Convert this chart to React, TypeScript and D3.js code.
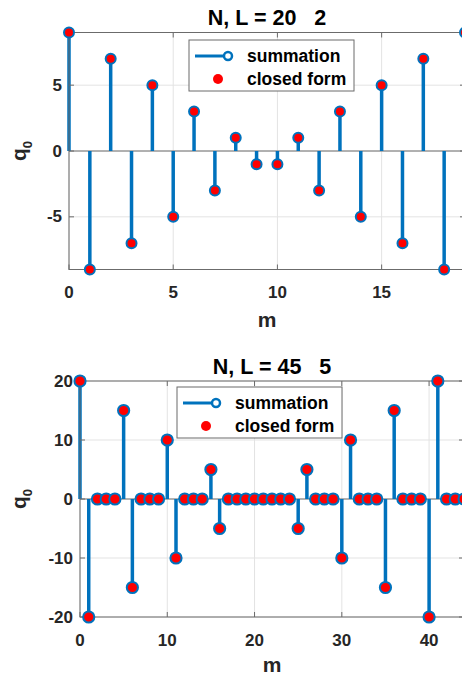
import React from "react";
import * as d3 from "d3";

const topM = d3.range(0, 20);
const topQ = [9, -9, 7, -7, 5, -5, 3, -3, 1, -1, -1, 1, -3, 3, -5, 5, -7, 7, -9, 9];
const topXTicks = [0, 5, 10, 15];
const topYTicks = [-5, 0, 5];

const botM = d3.range(0, 45);
const botQ = [
  20, -20, 0, 0, 0, 15, -15, 0, 0, 0, 10, -10, 0, 0, 0, 5, -5, 0, 0, 0, 0, 0, 0, 0, 0,
  -5, 5, 0, 0, 0, -10, 10, 0, 0, 0, -15, 15, 0, 0, 0, -20, 20, 0, 0, 0,
];
const botXTicks = [0, 10, 20, 30, 40];
const botYTicks = [-20, -10, 0, 10, 20];

const BLUE = "#0072BD";
const RED = "#FF0000";
const AX = "#6b6b6b";
const TXT = "#262626";
const FONT = "'Liberation Sans', Arial, sans-serif";

type PanelProps = {
  title: string;
  m: number[];
  q: number[];
  xDomain: [number, number];
  yDomain: [number, number];
  xRange: [number, number];
  yRange: [number, number];
  xTicks: number[];
  yTicks: number[];
  r: number;
  legend: { x: number; y: number; w: number; h: number };
  ylabX: number;
  xlabY: number;
  xtickY: number;
  titleY: number;
};

function Panel(p: PanelProps) {
  const x = d3.scaleLinear().domain(p.xDomain).range(p.xRange);
  const y = d3.scaleLinear().domain(p.yDomain).range(p.yRange);
  const [x0, x1] = p.xRange;
  const [yb, yt] = p.yRange;
  const cx = (x0 + x1) / 2;
  const cy = (yb + yt) / 2;
  const tl = 5;
  const lg = p.legend;
  return (
    <g>
      {p.xTicks.map((t) => (
        <line key={"gx" + t} x1={x(t)} x2={x(t)} y1={yt} y2={yb} stroke="#e3e3e3" strokeWidth={1} />
      ))}
      {p.yTicks.map((t) => (
        <line key={"gy" + t} x1={x0} x2={x1} y1={y(t)} y2={y(t)} stroke="#e3e3e3" strokeWidth={1} />
      ))}
      <line x1={x0} x2={x1} y1={y(0)} y2={y(0)} stroke="#707070" strokeWidth={1} />
      {p.m.map((mm, i) => (
        <line key={"s" + mm} x1={x(mm)} x2={x(mm)} y1={y(0)} y2={y(p.q[i])} stroke={BLUE} strokeWidth={3.5} />
      ))}
      <rect x={x0} y={yt} width={x1 - x0} height={yb - yt} fill="none" stroke={AX} strokeWidth={1} />
      {p.xTicks.map((t) => (
        <g key={"tx" + t}>
          <line x1={x(t)} x2={x(t)} y1={yb} y2={yb - tl} stroke={AX} />
          <line x1={x(t)} x2={x(t)} y1={yt} y2={yt + tl} stroke={AX} />
          <text x={x(t)} y={p.xtickY} textAnchor="middle" dominantBaseline="central" fontSize={17} fontWeight="bold" fill={TXT}>
            {t}
          </text>
        </g>
      ))}
      {p.yTicks.map((t) => (
        <g key={"ty" + t}>
          <line x1={x0} x2={x0 + tl} y1={y(t)} y2={y(t)} stroke={AX} />
          <line x1={x1} x2={x1 - tl} y1={y(t)} y2={y(t)} stroke={AX} />
          <text x={x0 - 7} y={y(t)} textAnchor="end" dominantBaseline="central" fontSize={17} fontWeight="bold" fill={TXT}>
            {t}
          </text>
        </g>
      ))}
      {p.m.map((mm, i) => (
        <circle key={"c" + mm} cx={x(mm)} cy={y(p.q[i])} r={p.r} fill={RED} stroke={BLUE} strokeWidth={2} />
      ))}
      <text x={cx} y={p.titleY} textAnchor="middle" dominantBaseline="central" fontSize={21.5} fontWeight="bold" fill="#000" style={{ whiteSpace: "pre" }}>
        {p.title}
      </text>
      <text x={cx} y={p.xlabY} textAnchor="middle" fontSize={21} fontWeight="bold" fill={TXT}>
        m
      </text>
      <text transform={`translate(${p.ylabX},${cy}) rotate(-90)`} textAnchor="middle" fontSize={21} fontWeight="bold" fill={TXT}>
        q<tspan fontSize={13} dy={6}>0</tspan>
      </text>
      <rect x={lg.x} y={lg.y} width={lg.w} height={lg.h} fill="#fff" stroke="#6b6b6b" strokeWidth={1} />
      <line x1={lg.x + 6} x2={lg.x + 37} y1={lg.y + 16} y2={lg.y + 16} stroke={BLUE} strokeWidth={3} />
      <circle cx={lg.x + 39} cy={lg.y + 16} r={4} fill="#fff" stroke={BLUE} strokeWidth={2.5} />
      <circle cx={lg.x + 29} cy={lg.y + 39} r={5} fill={RED} />
      <text x={lg.x + 58} y={lg.y + 16} dominantBaseline="central" fontSize={17.5} fontWeight="bold" fill="#000">
        summation
      </text>
      <text x={lg.x + 58} y={lg.y + 39} dominantBaseline="central" fontSize={17.5} fontWeight="bold" fill="#000">
        closed form
      </text>
    </g>
  );
}

export default function App() {
  return (
    <div style={{ position: "absolute", left: 0, top: 0 }}>
      <svg width={462} height={678} style={{ display: "block", background: "#fff", fontFamily: FONT }}>
        <Panel
          title={"N, L = 20   2"}
          m={topM}
          q={topQ}
          xDomain={[0, 19]}
          yDomain={[-9, 9]}
          xRange={[69, 465]}
          yRange={[269.5, 32.5]}
          xTicks={topXTicks}
          yTicks={topYTicks}
          r={5}
          legend={{ x: 189, y: 40, w: 165, h: 51 }}
          ylabX={26}
          xlabY={327}
          xtickY={292}
          titleY={18}
        />
        <Panel
          title={"N, L = 45   5"}
          m={botM}
          q={botQ}
          xDomain={[0, 44]}
          yDomain={[-20, 20]}
          xRange={[80, 464]}
          yRange={[617, 381]}
          xTicks={botXTicks}
          yTicks={botYTicks}
          r={5.6}
          legend={{ x: 177, y: 387, w: 165, h: 51 }}
          ylabX={26}
          xlabY={672}
          xtickY={640}
          titleY={367}
        />
      </svg>
    </div>
  );
}
